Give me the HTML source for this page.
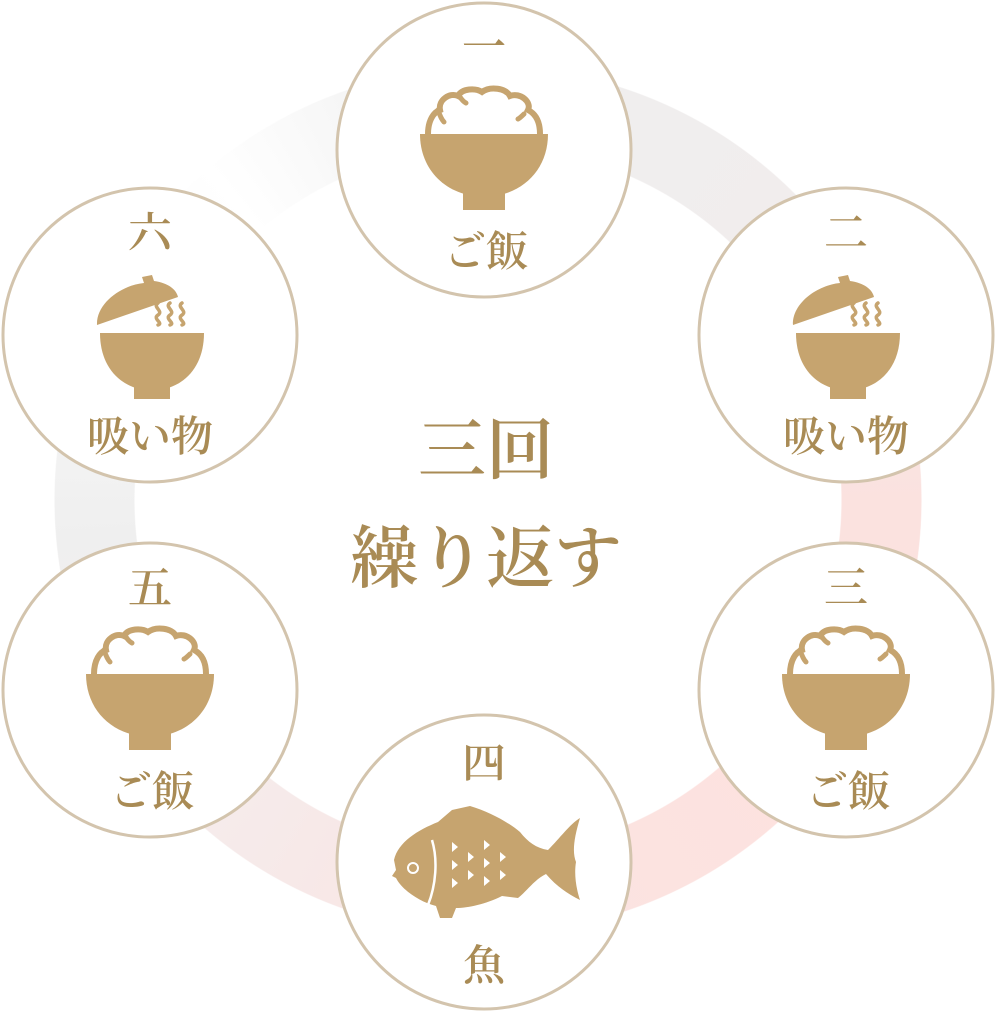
<!DOCTYPE html>
<html><head><meta charset="utf-8"><style>
html,body{margin:0;padding:0;background:#fff;}
body{width:996px;height:1012px;position:relative;overflow:hidden;font-family:"Liberation Serif","Noto Serif CJK JP","Noto Serif CJK SC",serif;}
.ring{position:absolute;left:54px;top:66px;width:868px;height:868px;border-radius:50%;
background:conic-gradient(from 0deg,#efefef 0deg,#f1eded 45deg,#fbe2df 90deg,#fde2df 135deg,#fae4e2 180deg,#f5ecec 225deg,#efefef 265deg,#fafafa 300deg,#ffffff 320deg,#f4f4f4 345deg,#efefef 360deg);
-webkit-mask:radial-gradient(circle,transparent 353px,#000 354px,#000 433px,transparent 434px);
mask:radial-gradient(circle,transparent 353px,#000 354px,#000 433px,transparent 434px);}
svg{position:absolute;left:0;top:0;}
text{font-family:"Liberation Serif","Noto Serif CJK JP","Noto Serif CJK SC",serif;fill:#a98b55;font-weight:600;}
</style></head><body>
<div class="ring"></div>
<svg width="996" height="1012" viewBox="0 0 996 1012">
<defs>
<g id="rice">
<path d="M-56 0 C-56 -14 -50 -22 -44 -24 C-46 -34 -34 -42 -26 -38 C-22 -46 -8 -46 -2 -42 C6 -48 22 -46 26 -38 C36 -42 48 -32 44 -24 C52 -20 56 -12 56 0" fill="none" stroke="#c6a46f" stroke-width="6"/>
<path d="M-46 -24 C-44 -18 -42 -14 -40 -12 M-24 -37 C-22 -34 -20 -32 -18 -31 M40 -20 C38 -18 36 -16 34 -15" fill="none" stroke="#c6a46f" stroke-width="5" stroke-linecap="round"/>
<path d="M-64 0 H64 C64 36 38 62 0 63 C-38 62 -64 36 -64 0 Z" fill="#c6a46f"/>
<rect x="-21" y="58" width="42" height="18" fill="#c6a46f"/>
</g>
<g id="soup">
<path d="M-52 0 H52 C52 34 32 56 0 58 C-32 56 -52 34 -52 0 Z" fill="#c6a46f"/>
<rect x="-18" y="54" width="36" height="12" fill="#c6a46f"/>
<path d="M-55 -8 C-56 -30 -30 -48 -8 -50 L-10 -56 L0 -58 L2 -52 C16 -50 24 -44 26 -36 Z" fill="#c6a46f"/>
<path d="M6 -30 c-6 4 6 8 0 12 c-6 4 6 8 0 10 M18 -30 c-6 4 6 8 0 12 c-6 4 6 8 0 10 M30 -30 c-6 4 6 8 0 12 c-6 4 6 8 0 10" fill="none" stroke="#c6a46f" stroke-width="3.5" stroke-linecap="round"/>
</g>
</defs>
<g fill="#fff" stroke="#d3c4ad" stroke-width="3">
<circle cx="484" cy="150" r="147"/>
<circle cx="846" cy="335" r="147"/>
<circle cx="846" cy="690" r="147"/>
<circle cx="484" cy="862" r="147"/>
<circle cx="150" cy="690" r="147"/>
<circle cx="150" cy="335" r="147"/>
</g>
<use href="#rice" x="484" y="134"/>
<use href="#rice" x="846" y="674"/>
<use href="#rice" x="150" y="674"/>
<use href="#soup" x="848" y="333"/>
<use href="#soup" x="152" y="333"/>
<g transform="translate(380,790)">
<path d="M14 70 C18 52 38 40 58 32 L72 20 L90 16 C110 22 128 32 140 42 C148 52 156 58 168 60 C180 48 190 34 200 28 C194 48 192 62 196 72 C194 84 196 98 200 110 C188 104 176 96 166 84 C154 90 148 100 138 108 L122 106 C106 114 88 118 76 118 L72 128 L60 128 L56 116 C40 112 22 100 16 88 L12 86 L16 80 Z" fill="#c6a46f"/>
<circle cx="33" cy="78" r="5" fill="none" stroke="#fff" stroke-width="2"/>
<path d="M52 50 C58 70 56 95 48 115" fill="none" stroke="#fff" stroke-width="2.5"/>
<g fill="#fff">
<path d="M72 52 l6 5 l-6 5z M72 70 l6 5 l-6 5z M72 88 l6 5 l-6 5z M88 62 l6 5 l-6 5z M88 80 l6 5 l-6 5z M104 50 l6 5 l-6 5z M104 68 l6 5 l-6 5z M104 86 l6 5 l-6 5z M120 62 l6 5 l-6 5z M120 80 l6 5 l-6 5z"/>
</g>
</g>
<g font-size="44" text-anchor="middle">
<text x="484" y="62">一</text>
<text x="846" y="248">二</text>
<text x="846" y="603">三</text>
<text x="484" y="778">四</text>
<text x="150" y="603">五</text>
<text x="150" y="248">六</text>
</g>
<g font-size="42" text-anchor="middle">
<text x="486" y="266">ご飯</text>
<text x="846" y="451">吸い物</text>
<text x="848" y="806">ご飯</text>
<text x="484" y="980">魚</text>
<text x="152" y="806">ご飯</text>
<text x="150" y="451">吸い物</text>
</g>
<g font-size="68" text-anchor="middle">
<text x="486" y="474">三回</text>
<text x="486" y="582">繰り返す</text>
</g>
</svg>
</body></html>
